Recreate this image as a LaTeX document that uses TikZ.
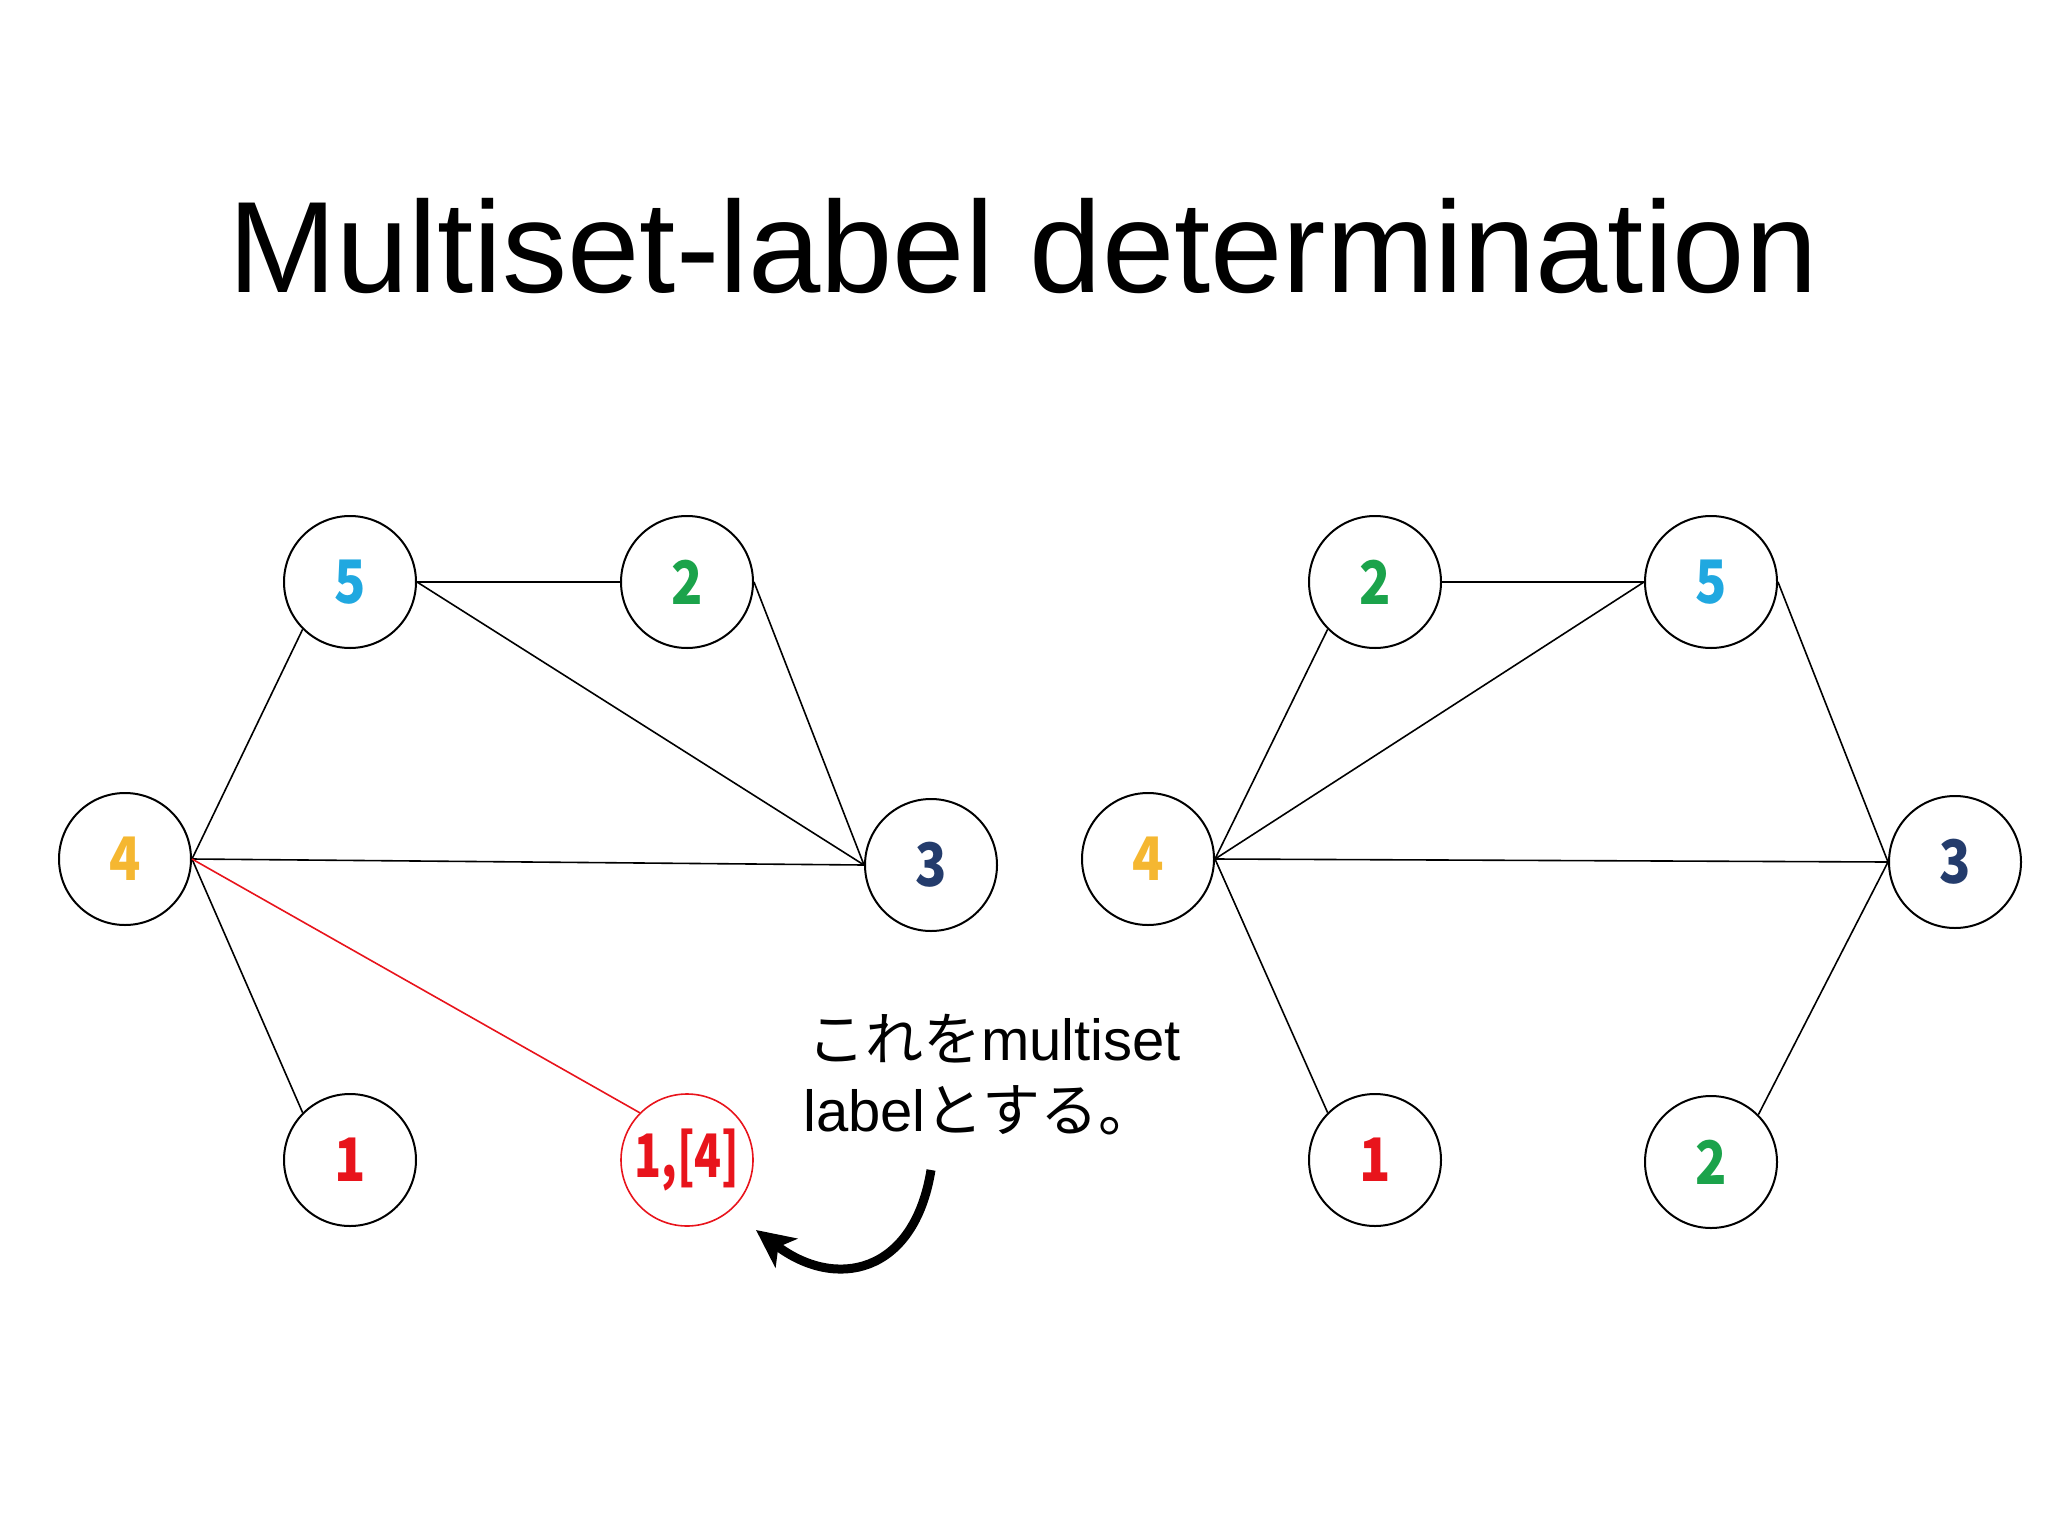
\documentclass[tikz,border=0pt]{standalone}
\usepackage{fontspec}
\setmainfont{Liberation Sans}
\newfontfamily\cjk{Noto Sans CJK JP}
\newfontfamily\digitfont[FakeStretch=0.86]{Noto Sans CJK JP}
\usetikzlibrary{arrows.meta}
\definecolor{ncyan}{HTML}{20A8E0}
\definecolor{ngreen}{HTML}{1BA34B}
\definecolor{nyellow}{HTML}{F5B731}
\definecolor{nnavy}{HTML}{243C6C}
\definecolor{nred}{HTML}{E8141C}
\begin{document}
\begin{tikzpicture}[x=1pt,y=-1pt,
  vtx/.style={circle,draw=black,line width=2pt,minimum size=132pt,inner sep=0pt,
    font=\digitfont\bfseries\fontsize{60}{60}\selectfont},
  redvtx/.style={vtx,draw=nred,line width=1.6pt,text=nred},
  edge/.style={line width=1.6pt,black},
  redge/.style={line width=1.6pt,nred},
  bigarrow/.style={line width=9pt,-{Stealth[length=38pt,width=36pt,inset=10pt]}},
  jp/.style={anchor=base west,inner sep=0pt,font=\fontsize{58}{70}\selectfont}]
\useasboundingbox (0,0) rectangle (2048,1536);
% title
\node[anchor=base,inner sep=0pt,font=\fontsize{130}{140}\selectfont] (title) at (1023,292) {Multiset-label determination};
% left graph
\node[vtx,text=ncyan]   (L5) at (350,582) {5};
\node[vtx,text=ngreen]  (L2) at (687,582) {2};
\node[vtx,text=nyellow] (L4) at (125,859) {4};
\node[vtx,text=nnavy]   (L3) at (931,865) {3};
\node[vtx,text=nred]    (L1) at (350,1160) {1};
\node[redvtx]           (LR) at (687,1160) {\scalebox{0.86}[1]{1,[4]}};
\draw[edge] (L5.east) -- (L2.west);
\draw[edge] (L5.east) -- (L3.west);
\draw[edge] (L2.east) -- (L3.west);
\draw[edge] (L4.east) -- (L5.south west);
\draw[edge] (L4.east) -- (L3.west);
\draw[edge] (L4.east) -- (L1.north west);
\draw[redge] (L4.east) -- (LR.north west);
% right graph
\node[vtx,text=ngreen]  (R2) at (1375,582) {2};
\node[vtx,text=ncyan]   (R5) at (1711,582) {5};
\node[vtx,text=nyellow] (R4) at (1148,859) {4};
\node[vtx,text=nnavy]   (R3) at (1955,862) {3};
\node[vtx,text=nred]    (R1) at (1375,1160) {1};
\node[vtx,text=ngreen]  (R2b) at (1711,1162) {2};
\draw[edge] (R2.east) -- (R5.west);
\draw[edge] (R4.east) -- (R2.south west);
\draw[edge] (R4.east) -- (R5.west);
\draw[edge] (R5.east) -- (R3.west);
\draw[edge] (R4.east) -- (R3.west);
\draw[edge] (R4.east) -- (R1.north west);
\draw[edge] (R3.west) -- (R2b.north east);
% annotation
\node[jp] (jp1) at (807,1060) {{\cjk これを}multiset};
\node[jp] (jp2) at (803,1131) {label{\cjk とする。}};
\coordinate (arrS) at (931,1170);
\coordinate (arrE) at (756,1230);
\draw[bigarrow] (arrS) .. controls (914,1275) and (835,1290) .. (arrE);
\end{tikzpicture}
\end{document}
